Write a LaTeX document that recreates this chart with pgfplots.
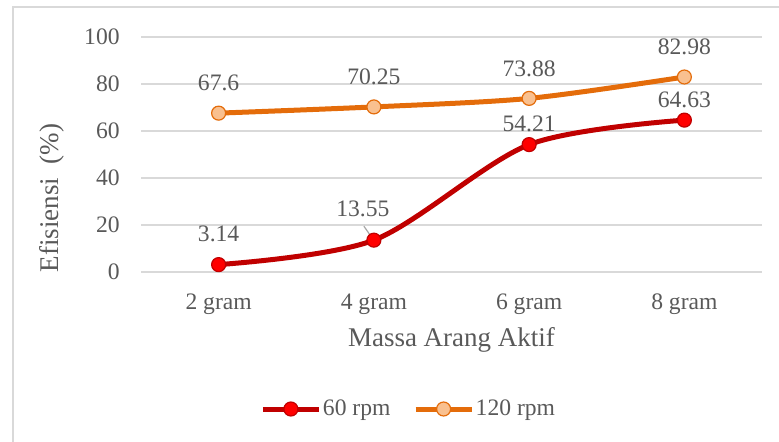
\documentclass[border=0pt]{standalone}
\usepackage{pgfplots}
\pgfplotsset{compat=1.18}
\usepackage{pgfplotstable}
\usepackage{fontspec}
\setmainfont{Liberation Serif}

\definecolor{txtgray}{HTML}{595959}
\definecolor{gridgray}{HTML}{D9D9D9}
\definecolor{lowline}{HTML}{C00000}
\definecolor{lowfill}{HTML}{FF0000}
\definecolor{highline}{HTML}{E46C0A}
\definecolor{highfill}{HTML}{F9C08F}

% x = category index, y = efficiency, dx/dy = label offset (pt)
\pgfplotstableread{
x y dx dy
0 3.14 0 15.2
1 13.55 -5.5 15.5
2 54.21 0 10.5
3 64.63 0 10.2
}\rpmlow
\pgfplotstableread{
x y dx dy
0 67.6 0 15
1 70.25 0 15
2 73.88 0 15
3 82.98 0 15
}\rpmhigh

\begin{document}
\begin{tikzpicture}
\useasboundingbox (0,0) rectangle (389.5pt,-221pt);
\draw[gridgray, line width=1pt] (6.5pt,-222pt) -- (6.5pt,-3.5pt) -- (392pt,-3.5pt);
\begin{axis}[
  at={(70.5pt,-136pt)}, anchor=south west,
  scale only axis, width=310.5pt, height=117.5pt,
  xmin=-0.5, xmax=3.5, ymin=0, ymax=100,
  clip=false,
  xtick={0,1,2,3},
  xticklabels={2 gram,4 gram,6 gram,8 gram},
  ytick={0,20,...,100},
  axis line style={draw=none},
  major tick length=0pt,
  ymajorgrids,
  grid style={gridgray, line width=0.9pt},
  /pgf/number format/assume math mode=true,
  tick label style={font=\fontsize{11.8}{14}\selectfont, text=txtgray, inner sep=0pt},
  yticklabel style={anchor=east},
  yticklabel shift=10.5pt,
  xticklabel style={anchor=base},
  xticklabel shift=18.5pt,
  label style={font=\fontsize{13.5}{16}\selectfont, text=txtgray},
  xlabel={Massa Arang Aktif},
  xlabel style={at={(axis description cs:0.5,-0.289)}, anchor=center},
  ylabel={Efisiensi\hspace{0.25em} (\%)},
  ylabel style={at={(axis description cs:-0.1433,0.315)}, anchor=center},
  nodes near coords,
  point meta=y,
  nodes near coords style={anchor=center, xshift=\dx pt, yshift=\dy pt,
    font=\fontsize{11.8}{14}\selectfont, text=txtgray, inner sep=0pt},
  legend columns=2,
  legend style={at={(axis description cs:0.1916,-0.583)}, anchor=west,
    draw=none, fill=none, inner sep=0pt,
    font=\fontsize{11.8}{14}\selectfont, text=txtgray,
    nodes={inner sep=0.8pt},
    /tikz/every even column/.append style={column sep=10.5pt}},
  legend image code/.code={%
    \draw[mark repeat=2, mark phase=2, #1]
      plot coordinates {(0pt,0pt) (14pt,0pt) (28pt,0pt)};},
]
% leader line from the 13.55 label to its point
\draw[gray!70, line width=0.6pt] (axis cs:1,13.55) ++(-5pt,7pt) -- ++(3.5pt,-5pt);

\addplot[smooth, lowline, line width=2.5pt,
  mark=*, mark size=3.5pt,
  mark options={fill=lowfill, draw=lowline, line width=0.6pt},
  visualization depends on={\thisrow{dx} \as \dx},
  visualization depends on={\thisrow{dy} \as \dy}]
  table[x=x, y=y] {\rpmlow};
\addlegendentry{60 rpm}

\addplot[smooth, highline, line width=2.5pt,
  mark=*, mark size=3.5pt,
  mark options={fill=highfill, draw=highline, line width=0.6pt},
  visualization depends on={\thisrow{dx} \as \dx},
  visualization depends on={\thisrow{dy} \as \dy}]
  table[x=x, y=y] {\rpmhigh};
\addlegendentry{120 rpm}
\end{axis}
\end{tikzpicture}
\end{document}
